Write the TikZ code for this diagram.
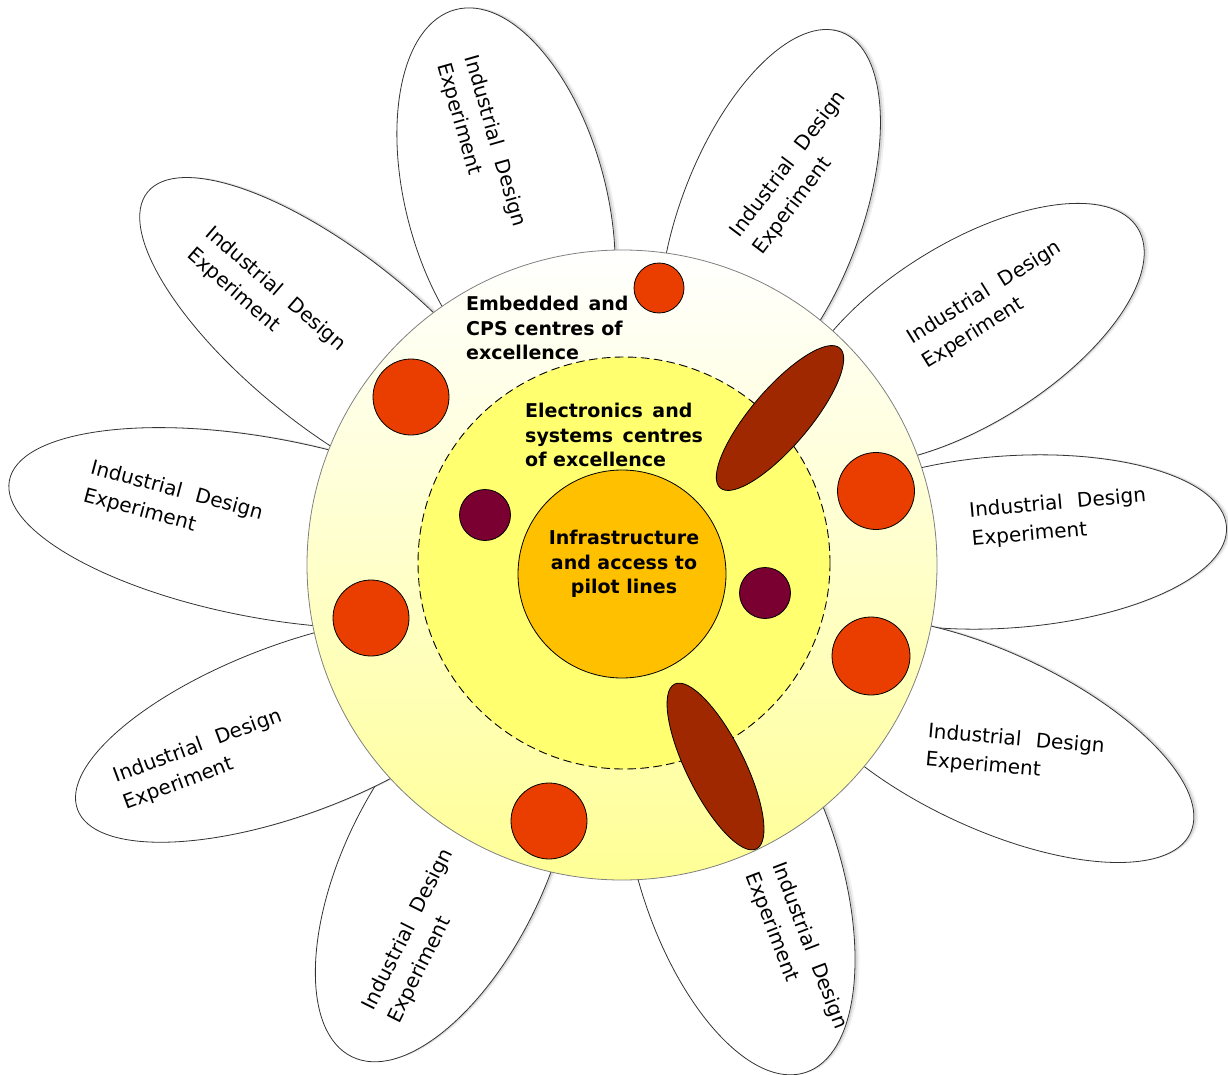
\documentclass[tikz,border=0pt]{standalone}
\usepackage{fontspec}
\setmainfont{DejaVu Sans}
\usetikzlibrary{shadows}
\definecolor{ringyellow}{RGB}{255,255,150}
\definecolor{ringpale}{RGB}{255,255,212}
\definecolor{zoneyellow}{RGB}{255,255,112}
\definecolor{coreamber}{RGB}{255,192,0}
\definecolor{dotred}{RGB}{234,62,0}
\definecolor{dotmaroon}{RGB}{123,0,50}
\definecolor{blobbrown}{RGB}{160,40,0}
\begin{document}
\begin{tikzpicture}[x=1pt, y=-1pt, line join=round, line cap=round,
	petal/.style={draw=black!80, fill=white, line width=0.8pt,
		drop shadow={opacity=0.12, shadow xshift=4.5pt, shadow yshift=0.5pt},
		drop shadow={opacity=0.22, shadow xshift=2.5pt, shadow yshift=0.3pt}},
	dot/.style={draw=black, line width=0.8pt},
	petaltext/.style={font=\fontsize{20}{28.5}\selectfont, align=left, inner sep=0pt},
	zonetext/.style={font=\fontsize{19}{24.5}\selectfont\bfseries, inner sep=0pt}]
	\useasboundingbox (0,0) rectangle (1228,1075);
	\path
	(622,565) coordinate (O)
	(624,563) coordinate (E)
	(622,574) coordinate (I)
	;
	% petals
	\foreach \cx/\cy/\t/\a/\b in {506/199/105/196/100, 770/219/69/200/90, 968/334/32/200/90,
		1007/542/4/220/86, 991/740/-25/220/88, 739/868/-72/215/100, 444/868/-116/210/100,
		293/729/-159.5/230/85, 265/528/169.5/260/90, 335/342/141.4/240/87}
	\draw[petal, rotate around={\t:(\cx,\cy)}] (\cx,\cy) ellipse [x radius=\a, y radius=\b];
	\foreach \x/\y/\r [count=\i] in {481/145/-74, 800/173/53, 992/305/32, 1059/518/5, 1015/754/-5,
		796/951/-69, 421/936/63.5, 203/760/20.5, 173/505/-15, 266/300/-41}
	\node[petaltext, rotate=\r] (ide\i) at (\x,\y) {Industrial\hspace{.4em} Design\\Experiment};
	% rings
	\draw[black!50, line width=0.8pt, top color=white, middle color=ringpale, bottom color=ringyellow] (O) circle [radius=315];
	\draw[dashed, dash pattern=on 8pt off 5pt, line width=0.9pt, fill=zoneyellow] (E) circle [radius=206];
	\draw[line width=0.8pt, fill=coreamber] (I) circle [radius=104];
	% centres
	\foreach \x/\y/\r in {659/288/25, 411/397/38, 876/491/38.5, 371/618/38, 871/656/39, 549/821/38}
	\draw[dot, fill=dotred] (\x,\y) circle [radius=\r];
	\foreach \x/\y in {485/515, 765/593}
	\draw[dot, fill=dotmaroon] (\x,\y) circle [radius=25.5];
	\foreach \x/\y/\t in {780/418/49.5, 715.5/766.5/-63.6}
	\draw[dot, fill=blobbrown, rotate around={\t:(\x,\y)}] (\x,\y) ellipse [x radius=92, y radius=29];
	% labels
	\node[zonetext, anchor=north west, align=left] (embedded) at (466,296) {Embedded\hspace{.15em} and\\CPS centres of\\excellence};
	\node[zonetext, anchor=north west, align=left] (electronics) at (525,403) {Electronics\hspace{.15em} and\\systems\hspace{.15em} centres\\of excellence};
	\node[zonetext, anchor=north, align=center] (infra) at (624,530) {Infrastructure\\and access to\\pilot lines};
\end{tikzpicture}
\end{document}
